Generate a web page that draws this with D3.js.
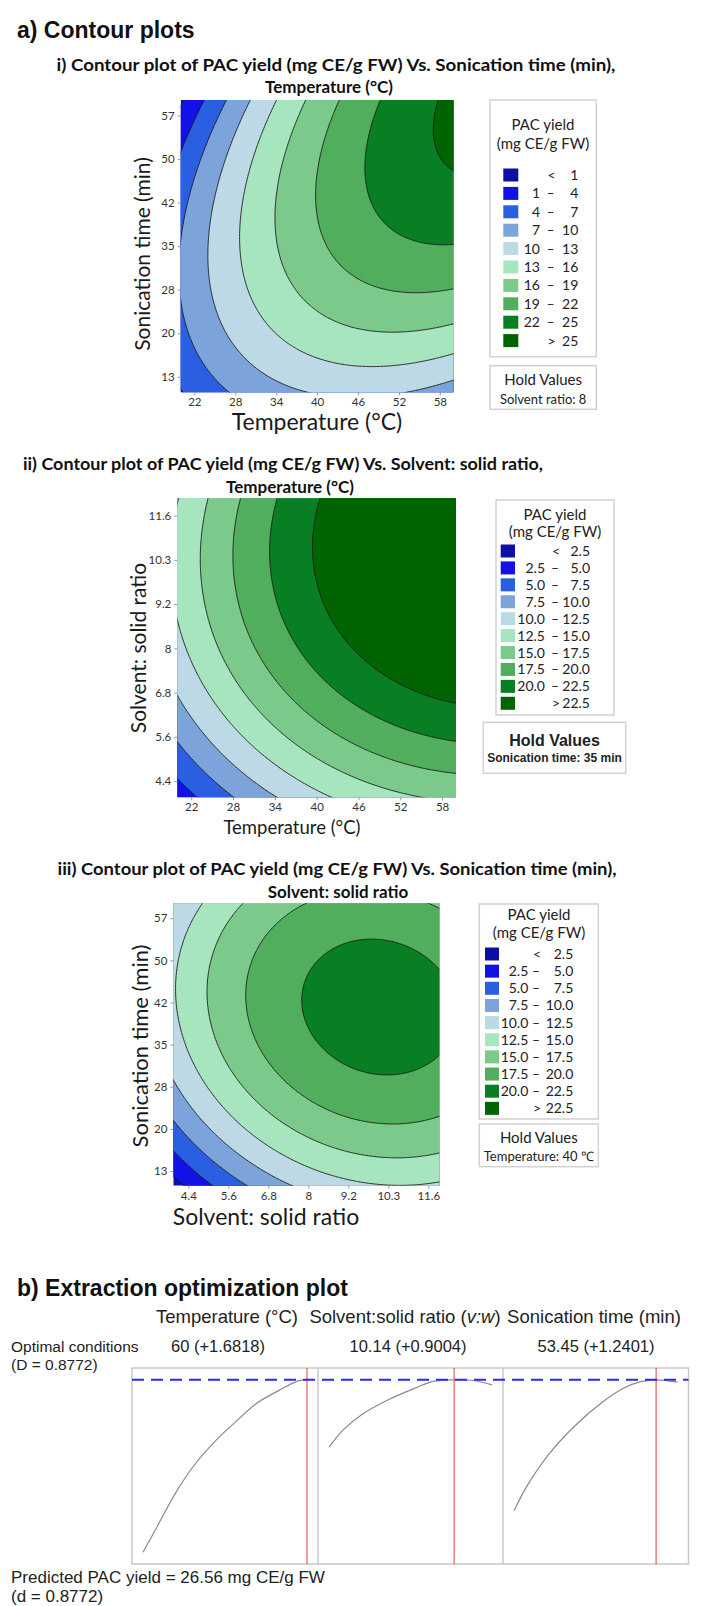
<!DOCTYPE html>
<html><head><meta charset="utf-8">
<script src="https://cdn.jsdelivr.net/npm/d3@7"></script>
<style>
body{margin:0;background:#fff;}
svg{display:block;}
</style></head>
<body>
<svg id="chart" width="707" height="1606"></svg>
<script>
// ---------------- DATA ----------------
const bandColors = ["#0E0EA4","#1212E6","#2A5FE2","#7CA4DA","#BDD9E6","#A7E5BF","#7CC98C","#50AE5C","#087F22","#006500"];
const levelsA = [1,4,7,10,13,16,19,22,25];
const levelsB = [2.5,5,7.5,10,12.5,15,17.5,20,22.5];

const tempTickValues = [22,28,34,40,46,52,58];
const tempTickLabels = ["22","28","34","40","46","52","58"];
const timeTickValues = [13,20.33,27.67,35,42.33,49.67,57];
const timeTickLabels = ["13","20","28","35","42","50","57"];
const ratioTickValues = [4.4,5.6,6.8,8,9.2,10.4,11.6];
const ratioTickLabels = ["4.4","5.6","6.8","8","9.2","10.3","11.6"];

// contour readings from the picture: [x, y, PAC yield]
const readingsTempTime = [
  [60,47.5,25],[58.1,55,25],[58.8,59.6,25],
  [45.3,41,22],[60,34.7,22],[54,33.8,22],
  [40,37,19],[60,27.7,19],
  [35.5,33,16],[60,22,16],
  [31.3,31,13],[60,17.5,13],
  [25.8,29,10],[60,13.3,10],[36.3,10.4,10],[52.2,10.4,10],[60,10.4,9],
  [26.5,10.4,7],[20,40,7],[20,22.6,7],
  [20,51.5,4],[23.6,59.6,4],[26.65,59.6,7]
];
const readingsTempRatio = [
  [20.65,12.07,12.5],[24.7,12.07,15],[28.8,12.07,17.5],[33.9,12.07,20],[40.5,12.07,22.5],
  [60.4,6.9,22.5],[60.4,5.5,20],[60.4,4.38,17.5],
  [24.5,3.96,5],[29.1,3.96,7.5],[34.4,3.96,10],[42.5,3.96,12.5],[55,3.96,15],
  [20,6.83,10],[20,5.33,7.5],[20,4.16,5],
  [39,9.6,22.5],[54.5,6.7,22.5]
];
const readingsRatioTime = [
  [4.75,59.6,12.5],[6.15,59.6,15],[7.65,59.6,17.5],
  [11.93,47.5,20],[11.93,33,20],[11.93,22.2,17.5],[11.93,17,15],
  [4.07,10.45,2.5],[5.2,10.45,5],[6.2,10.45,7.5],[7.75,10.45,10],[10.25,10.45,12.5],
  [3.95,12,2.5],[3.95,16.7,5],[3.95,22.2,7.5],[3.95,29.4,10],
  [7.7,39.5,20],[10.05,51.5,20],[10.5,27.5,20],[6.2,41,17.5],[10.75,20.7,17.5],[5.05,41,15],[4.03,42.2,12.5]
];

// optimization plot curves (predicted PAC yield)
const optTemp = [20,23.6,28,32.4,37.9,42.3,47.8,53.3,57.7,60];
const optTempYield = [5.25,8.56,12.62,15.93,19.13,21.22,23.67,25.27,26.38,26.56];
const optRatio = [4,4.71,5.6,6.91,8.23,9.11,10.14,11.09,12];
const optRatioYield = [18.23,20.39,22.24,24.08,25.52,26.34,26.54,26.46,25.92];
const optTime = [10,14,20.2,28.5,36.7,43.6,49.1,53.45,60];
const optTimeYield = [10.37,13.44,17.13,20.81,23.67,25.52,26.34,26.54,26.25];
const optimum = {temp:60, ratio:10.14, time:53.45, yield:26.56};

// ---------------- HELPERS ----------------
const svg = d3.select("#chart");
const defs = svg.append("defs");
const CAL = "Lato, 'Open Sans', sans-serif";
const ARIAL = "'Liberation Sans', Arial, sans-serif";

function solve(A, b) {
  const n = b.length;
  const M = A.map((row,i)=>row.concat([b[i]]));
  for (let k=0;k<n;k++){
    let p=k; for(let i=k+1;i<n;i++) if(Math.abs(M[i][k])>Math.abs(M[p][k])) p=i;
    [M[k],M[p]]=[M[p],M[k]];
    for(let i=k+1;i<n;i++){ const f=M[i][k]/M[k][k]; for(let j=k;j<=n;j++) M[i][j]-=f*M[k][j]; }
  }
  const x=new Array(n).fill(0);
  for(let i=n-1;i>=0;i--){ let s=M[i][n]; for(let j=i+1;j<n;j++) s-=M[i][j]*x[j]; x[i]=s/M[i][i]; }
  return x;
}
function fitQuadratic(points, xd, yd) {
  const cx=(xd[0]+xd[1])/2, hx=(xd[1]-xd[0])/2, cy=(yd[0]+yd[1])/2, hy=(yd[1]-yd[0])/2;
  const basis=(x,y)=>{const u=(x-cx)/hx, v=(y-cy)/hy; return [1,u,v,u*u,v*v,u*v];};
  const n=6, A=Array.from({length:n},()=>new Array(n).fill(0)), b=new Array(n).fill(0);
  points.forEach(([x,y,z])=>{const f=basis(x,y); for(let i=0;i<n;i++){b[i]+=f[i]*z; for(let j=0;j<n;j++) A[i][j]+=f[i]*f[j];}});
  for(let i=0;i<n;i++) A[i][i]+=1e-6;
  const c=solve(A,b);
  return (x,y)=>{const f=basis(x,y); let s=0; for(let i=0;i<n;i++) s+=f[i]*c[i]; return s;};
}

function contourPanel(o) {
  const [x0,y0,x1,y1] = o.rect;
  const xs = d3.scaleLinear().domain(o.xDomain).range([x0,x1]);
  const ys = d3.scaleLinear().domain(o.yDomain).range([y1,y0]);
  const model = fitQuadratic(o.readings, o.xDomain, o.yDomain);
  const n=200, m=200, pad=2;
  const dxv=(o.xDomain[1]-o.xDomain[0])/(n-1-2*pad), dyv=(o.yDomain[1]-o.yDomain[0])/(m-1-2*pad);
  const values=new Array(n*m);
  for(let j=0;j<m;j++){const yv=o.yDomain[1]-(j-pad)*dyv;
    for(let i=0;i<n;i++){const xv=o.xDomain[0]+(i-pad)*dxv; values[j*n+i]=model(xv,yv);}}
  const gx=d3.scaleLinear().domain([pad+0.5,n-pad-0.5]).range([x0,x1]);
  const gy=d3.scaleLinear().domain([pad+0.5,m-pad-0.5]).range([y0,y1]);
  const proj=d3.geoTransform({point(x,y){this.stream.point(gx(x),gy(y));}});
  const path=d3.geoPath(proj);
  const contours=d3.contours().size([n,m]).thresholds(o.levels)(values);
  defs.append("clipPath").attr("id","clip"+o.id).append("rect")
    .attr("x",x0).attr("y",y0).attr("width",x1-x0).attr("height",y1-y0);
  const g=svg.append("g").attr("clip-path","url(#clip"+o.id+")");
  g.append("rect").attr("x",x0).attr("y",y0).attr("width",x1-x0).attr("height",y1-y0).attr("fill",bandColors[0]);
  g.selectAll("path.fill").data(contours).join("path").attr("class","fill")
    .attr("d",path).attr("fill",(d,i)=>bandColors[i+1]).attr("stroke","none");
  g.selectAll("path.line").data(contours).join("path").attr("class","line")
    .attr("d",path).attr("fill","none").attr("stroke","#1c1c1c").attr("stroke-width",0.9);

  const ax=svg.append("g").attr("transform",`translate(0,${y1})`)
    .call(d3.axisBottom(xs).tickValues(o.xTicks).tickFormat((d,i)=>o.xLabels[i]).tickSize(3).tickPadding(3));
  const ay=svg.append("g").attr("transform",`translate(${x0},0)`)
    .call(d3.axisLeft(ys).tickValues(o.yTicks).tickFormat((d,i)=>o.yLabels[i]).tickSize(3).tickPadding(3));
  [ax,ay].forEach(a=>{a.select(".domain").remove();
    a.selectAll(".tick line").attr("stroke","#999");
    a.selectAll(".tick text").attr("fill","#333").style("font-family",CAL).style("font-size","11.5px");});
  svg.append("text").attr("x",o.xTitleX).attr("y",o.xTitleY).attr("text-anchor","middle")
    .style("font-family",CAL).style("font-size",o.xTitleSize+"px").attr("fill","#1a1a1a").text(o.xTitle);
  svg.append("text").attr("transform",`translate(${o.yTitleX},${o.yTitleY}) rotate(-90)`).attr("text-anchor","middle")
    .attr("dy","0.35em").style("font-family",CAL).style("font-size",o.yTitleSize+"px").attr("fill","#1a1a1a").text(o.yTitle);
}

function legend(o) {
  const g=svg.append("g");
  g.append("rect").attr("x",o.box[0]).attr("y",o.box[1]).attr("width",o.box[2]-o.box[0]).attr("height",o.box[3]-o.box[1])
    .attr("fill","#fff").attr("stroke","#d2d2d2").attr("stroke-width",1.5);
  g.append("text").attr("x",o.cx).attr("y",o.t1).attr("text-anchor","middle").style("font-family",CAL).style("font-size","15px").attr("fill","#222").text("PAC yield");
  g.append("text").attr("x",o.cx).attr("y",o.t2).attr("text-anchor","middle").style("font-family",CAL).style("font-size","15px").attr("fill","#222").text("(mg CE/g FW)");
  const lv=o.levels, fmt=o.fmt;
  bandColors.forEach((c,i)=>{
    const yc=o.row0+i*o.rowStep;
    g.append("rect").attr("x",o.swX).attr("y",yc-6.5).attr("width",o.swW).attr("height",13).attr("fill",c);
    const t=(x,anchor,s)=>g.append("text").attr("x",x).attr("y",yc+5).attr("text-anchor",anchor)
      .style("font-family",CAL).style("font-size","14px").attr("fill","#222").text(s);
    if(i===0){ t(o.dashX+1,"middle","<"); t(o.rightX,"end",fmt(lv[0])); }
    else if(i===bandColors.length-1){ t(o.dashX+1,"middle",">"); t(o.rightX,"end",fmt(lv[lv.length-1])); }
    else { t(o.leftX,"end",fmt(lv[i-1])); t(o.dashX,"middle","–"); t(o.rightX,"end",fmt(lv[i])); }
  });
  const hb=o.hold;
  g.append("rect").attr("x",hb.box[0]).attr("y",hb.box[1]).attr("width",hb.box[2]-hb.box[0]).attr("height",hb.box[3]-hb.box[1])
    .attr("fill","#fff").attr("stroke","#d2d2d2").attr("stroke-width",1.5);
  const hcx=(hb.box[0]+hb.box[2])/2;
  g.append("text").attr("x",hcx).attr("y",hb.y1).attr("text-anchor","middle").style("font-family",hb.font)
    .style("font-size",hb.s1).style("font-weight",hb.w).attr("fill","#222").text("Hold Values");
  g.append("text").attr("x",hcx).attr("y",hb.y2).attr("text-anchor","middle").style("font-family",hb.font)
    .style("font-size",hb.s2).style("font-weight",hb.w).attr("fill","#222").text(hb.text);
}

function title(x,y,s,size,weight,font,anchor,len){
  const t=svg.append("text").attr("x",x).attr("y",y).attr("text-anchor",anchor||"start")
    .style("font-family",font).style("font-size",size+"px").style("font-weight",weight).attr("fill","#111").text(s);
  if(len) t.attr("textLength",len).attr("lengthAdjust","spacingAndGlyphs");
  return t;
}

// ---------------- a) CONTOUR PLOTS ----------------
title(17,38,"a) Contour plots",23,"bold",ARIAL);

title(336,71,"i) Contour plot of PAC yield (mg CE/g FW) Vs. Sonication time (min),",17,"bold",CAL,"middle",559);
title(329,93,"Temperature (°C)",17,"bold",CAL,"middle");
contourPanel({id:1, rect:[180.7,100,453.5,392.3], xDomain:[20,60], yDomain:[10.4,59.6],
  readings:readingsTempTime, levels:levelsA,
  xTicks:tempTickValues, xLabels:tempTickLabels, yTicks:timeTickValues, yLabels:timeTickLabels,
  xTitle:"Temperature (°C)", xTitleX:317, xTitleY:430, xTitleSize:23,
  yTitle:"Sonication time (min)", yTitleX:143, yTitleY:254, yTitleSize:21});
legend({box:[490,100,596.3,356.7], cx:543, t1:130, t2:148.5, row0:175, rowStep:18.4, swX:503.3, swW:15,
  leftX:540, dashX:550.5, rightX:578.3, levels:levelsA, fmt:d3.format("d"),
  hold:{box:[490,365.7,596.3,409.3], y1:384.5, y2:403.5, s1:"15px", s2:"13px", w:"normal", font:CAL, text:"Solvent ratio: 8"}});

title(283,470,"ii) Contour plot of PAC yield (mg CE/g FW) Vs. Solvent: solid ratio,",17,"bold",CAL,"middle",520);
title(290,493,"Temperature (°C)",17,"bold",CAL,"middle");
contourPanel({id:2, rect:[177.3,498.3,456,797.3], xDomain:[20,60], yDomain:[3.96,12.07],
  readings:readingsTempRatio, levels:levelsB,
  xTicks:tempTickValues, xLabels:tempTickLabels, yTicks:ratioTickValues, yLabels:ratioTickLabels,
  xTitle:"Temperature (°C)", xTitleX:292, xTitleY:834, xTitleSize:18.5,
  yTitle:"Solvent: solid ratio", yTitleX:138.3, yTitleY:648, yTitleSize:21});
legend({box:[496,500,614,715], cx:555, t1:520, t2:537, row0:551, rowStep:16.92, swX:500.7, swW:14.3,
  leftX:545, dashX:555, rightX:590, levels:levelsB, fmt:d3.format(".1f"),
  hold:{box:[483.3,722.3,625.7,773.3], y1:745.5, y2:761.5, s1:"16px", s2:"12px", w:"bold", font:ARIAL, text:"Sonication time: 35 min"}});

title(337,875,"iii) Contour plot of PAC yield (mg CE/g FW) Vs. Sonication time (min),",17,"bold",CAL,"middle",559);
title(338,898,"Solvent: solid ratio",17,"bold",CAL,"middle");
contourPanel({id:3, rect:[173.3,903.3,439.3,1185.7], xDomain:[3.95,11.93], yDomain:[10.44,59.6],
  readings:readingsRatioTime, levels:levelsB,
  xTicks:ratioTickValues, xLabels:ratioTickLabels, yTicks:timeTickValues, yLabels:timeTickLabels,
  xTitle:"Solvent: solid ratio", xTitleX:266, xTitleY:1225, xTitleSize:23,
  yTitle:"Sonication time (min)", yTitleX:140, yTitleY:1046, yTitleSize:22});
legend({box:[479.3,904,598.3,1119], cx:539, t1:920, t2:938, row0:954, rowStep:17.15, swX:485, swW:14,
  leftX:528.3, dashX:536, rightX:573.3, levels:levelsB, fmt:d3.format(".1f"),
  hold:{box:[479.3,1124,598.3,1166.7], y1:1142.5, y2:1161, s1:"15px", s2:"13px", w:"normal", font:CAL, text:"Temperature: 40 ℃"}});

// ---------------- b) OPTIMIZATION PLOT ----------------
title(17,1296,"b) Extraction optimization plot",23,"bold",ARIAL);
const bx0=132, bx1=688.5, by0=1368, by1=1564;
const headY=1323, valY=1352;
const panels=[
  {x0:132, x1:318, dom:[20,60], xs:optTemp, ys:optTempYield, opt:optimum.temp, head:"Temperature (°C)", hx:227, val:"60 (+1.6818)", vx:218},
  {x0:318, x1:503, dom:[4,12], xs:optRatio, ys:optRatioYield, opt:optimum.ratio, head:null, hx:405, val:"10.14 (+0.9004)", vx:408},
  {x0:503, x1:688.5, dom:[10,60], xs:optTime, ys:optTimeYield, opt:optimum.time, head:"Sonication time (min)", hx:594, val:"53.45 (+1.2401)", vx:596}
];
const yOpt=d3.scaleLinear().domain([3.8,28]).range([by1,by0]);
const txt=(x,y,s,size,anchor)=>svg.append("text").attr("x",x).attr("y",y).attr("text-anchor",anchor||"start")
  .style("font-family",ARIAL).style("font-size",size).attr("fill","#222").text(s);
svg.append("rect").attr("x",bx0).attr("y",by0).attr("width",bx1-bx0).attr("height",by1-by0)
  .attr("fill","#fff").attr("stroke","#c8c8c8").attr("stroke-width",1.5);
panels.forEach((p,k)=>{
  const xs=d3.scaleLinear().domain(p.dom).range([p.x0+11,p.x1-11]);
  if(k>0) svg.append("line").attr("x1",p.x0).attr("x2",p.x0).attr("y1",by0).attr("y2",by1).attr("stroke","#c8c8c8").attr("stroke-width",1.5);
  const line=d3.line().x((d,i)=>xs(p.xs[i])).y(d=>yOpt(d)).curve(d3.curveCatmullRom);
  svg.append("path").attr("d",line(p.ys)).attr("fill","none").attr("stroke","#8a8a8a").attr("stroke-width",1.2);
  svg.append("line").attr("x1",xs(p.opt)).attr("x2",xs(p.opt)).attr("y1",by0).attr("y2",by1).attr("stroke","#e8393d").attr("stroke-width",1);
  if(p.head) txt(p.hx,headY,p.head,"18.5px","middle");
  txt(p.vx,valY,p.val,"16.5px","middle");
});
const h2=svg.append("text").attr("x",405).attr("y",headY).attr("text-anchor","middle")
  .style("font-family",ARIAL).style("font-size","18.5px").attr("fill","#222");
h2.append("tspan").text("Solvent:solid ratio (");
h2.append("tspan").style("font-style","italic").text("v:w");
h2.append("tspan").text(")");
svg.append("line").attr("x1",bx0).attr("x2",bx1).attr("y1",yOpt(optimum.yield)).attr("y2",yOpt(optimum.yield))
  .attr("stroke","#2a2af0").attr("stroke-width",2).attr("stroke-dasharray","12,7");
txt(11,valY,"Optimal conditions","15.5px");
txt(11,1370,"(D = 0.8772)","15.5px");
txt(11,1583,"Predicted PAC yield = 26.56 mg CE/g FW","17px");
txt(11,1602,"(d = 0.8772)","17px");
</script>
